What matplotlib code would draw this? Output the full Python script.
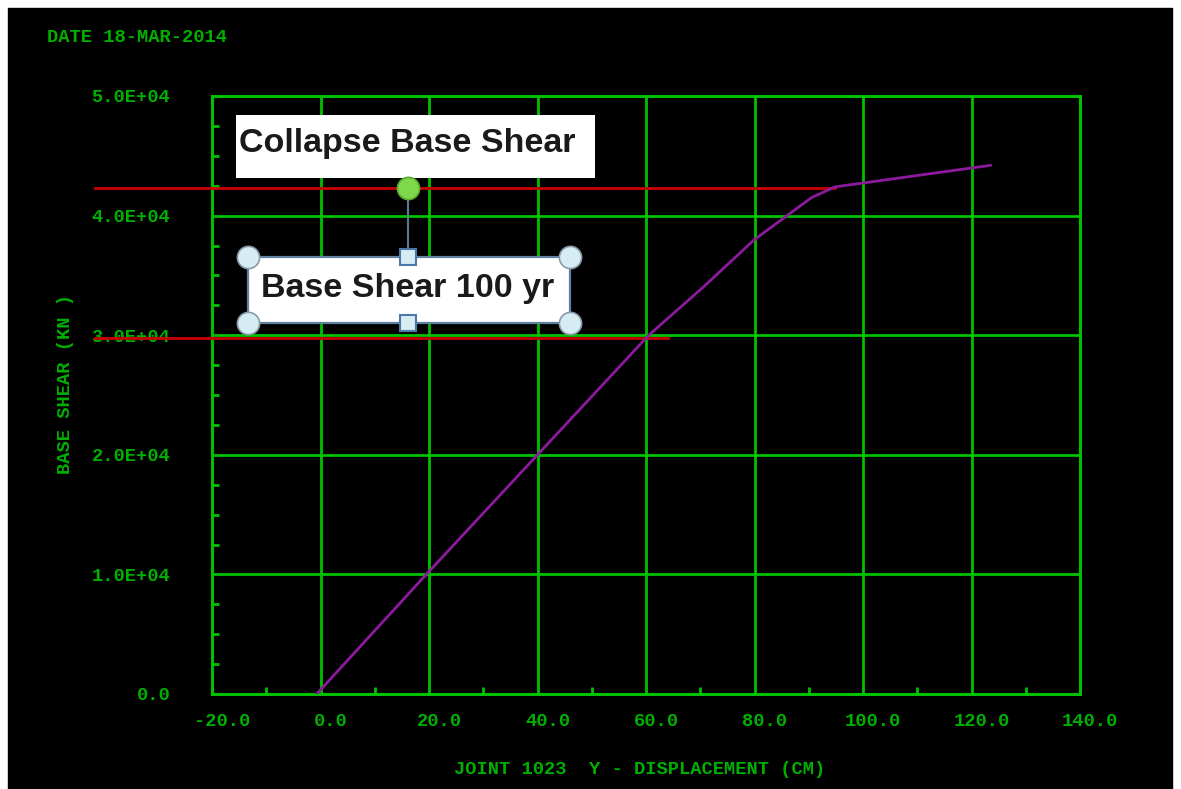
import matplotlib
matplotlib.use('Agg')
import matplotlib.pyplot as plt
import matplotlib.transforms as mtransforms
from matplotlib.patches import Rectangle
from matplotlib.ticker import MultipleLocator

# pushover curve
disp = [-0.7, 19.5, 40.0, 60.5, 70.5, 80.0, 86.0, 90.5, 94.8, 123.5]
shear = [0, 1.0e4, 2.0e4, 3.0e4, 3.4e4, 3.8e4, 4.0e4, 4.15e4, 4.24e4, 4.42e4]

x_ticks = [-20, 0, 20, 40, 60, 80, 100, 120, 140]
x_labels = ['-20.0', '0.0', '20.0', '40.0', '60.0', '80.0', '100.0', '120.0', '140.0']
y_ticks = [0, 1e4, 2e4, 3e4, 4e4, 5e4]
y_labels = ['0.0', '1.0E+04', '2.0E+04', '3.0E+04', '4.0E+04', '5.0E+04']

collapse_shear = 4.23e4
collapse_x = [-41.6, 94.8]
shear_100yr = 2.98e4
shear_100yr_x = [-41.6, 64.0]

GRID = '#00c000'
TXT = '#00b000'
mono = dict(family='Liberation Mono', weight='bold', size=13.5, color=TXT)

fig = plt.figure(figsize=(11.81, 7.89), dpi=100, facecolor='white')
fig.patches.append(Rectangle((8 / 1181, 0), 1164 / 1181, 781 / 789,
                             transform=fig.transFigure, color='black', zorder=-5))

ax = fig.add_axes([212 / 1181, 95 / 789, 868 / 1181, 598 / 789])
ax.set_facecolor('black')
ax.set_xlim(-20, 140)
ax.set_ylim(0, 5e4)

for s in ax.spines.values():
    s.set_color(GRID)
    s.set_linewidth(2.2)

ax.set_xticks(x_ticks)
ax.set_xticklabels(x_labels, **mono)
ax.set_yticks(y_ticks)
ax.set_yticklabels(y_labels, **mono)
ax.xaxis.set_minor_locator(MultipleLocator(10))
ax.yaxis.set_minor_locator(MultipleLocator(2500))
ax.tick_params(which='major', length=0, pad=14)
ax.tick_params(axis='y', which='major', pad=30)
ax.tick_params(which='minor', direction='in', length=5, width=2, color=GRID)
ax.grid(True, which='major', color=GRID, lw=2)

off = mtransforms.ScaledTranslation(0.10, 0, fig.dpi_scale_trans)
for lab in ax.get_xticklabels():
    lab.set_transform(lab.get_transform() + off)

# reference lines
ax.plot(collapse_x, [collapse_shear] * 2, color='#c80000', lw=2, clip_on=False, zorder=3)
ax.plot(shear_100yr_x, [shear_100yr] * 2, color='#c80000', lw=2, clip_on=False, zorder=3)

ax.plot(disp, shear, color='#8c1a9c', lw=2, zorder=4)

# callout boxes
ax.add_patch(Rectangle((-15.6, 43.14e3), 66.2, 5.27e3, facecolor='white',
                       edgecolor='none', zorder=5))
ax.text(16.0, 46.0e3, 'Collapse Base Shear', ha='center', va='center',
        family='Liberation Sans', weight='bold', size=24.5, color='#1a1a1a', zorder=6)

ax.add_patch(Rectangle((-13.36, 31.02e3), 59.35, 5.52e3, facecolor='white',
                       edgecolor='#6080a0', lw=1.6, zorder=5))
ax.text(16.0, 33.9e3, 'Base Shear 100 yr', ha='center', va='center',
        family='Liberation Sans', weight='bold', size=24.5, color='#1a1a1a', zorder=6)

# selection handles
ax.plot([16.13, 16.13], [collapse_shear, 36.54e3], color='#5a7a9a', lw=1.5, zorder=6)
ax.plot([-13.36, 45.99, -13.36, 45.99], [36.54e3, 36.54e3, 31.02e3, 31.02e3], 'o',
        ms=16, mfc='#d6ecf3', mec='#8a9aa8', mew=1.2, clip_on=False, zorder=7)
ax.plot([16.13, 16.13], [36.54e3, 31.02e3], 's', ms=12, mfc='#d6ecf3',
        mec='#4a78a8', mew=1.5, zorder=7)
ax.plot([16.13], [collapse_shear], 'o', ms=16, mfc='#7ed84a', mec='#5aa830',
        mew=1.2, zorder=7)

fig.text(47 / 1181, 1 - 38 / 789, 'DATE 18-MAR-2014', ha='left', va='center', **mono)
fig.text(640 / 1181, 1 - 769 / 789, 'JOINT 1023  Y - DISPLACEMENT (CM)',
         ha='center', va='center', **mono)
fig.text(66 / 1181, 1 - 384 / 789, 'BASE SHEAR (KN )', rotation=90,
         ha='center', va='center', **mono)

fig.savefig('out.png', dpi=100, facecolor='white')
